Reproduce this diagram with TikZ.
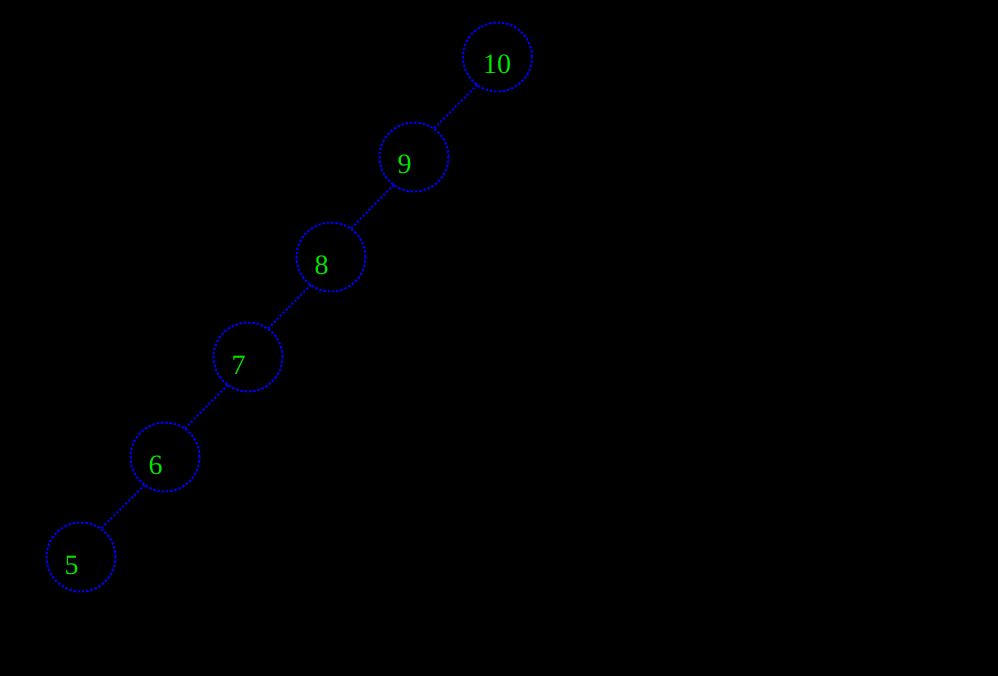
\documentclass[tikz,border=0pt]{standalone}
\usepackage{fontspec}
\setmainfont{Liberation Serif}
\begin{document}
\begin{tikzpicture}[y=1pt, x=1pt, yscale=-1, inner sep=0pt, outer sep=0pt,
	treenode/.style={circle, draw={rgb,255:red,0;green,0;blue,245}, line width=2, dash pattern=on 2.5 off 1.8, minimum size=69},
	treeedge/.style={draw={rgb,255:red,0;green,0;blue,245}, line width=2, dash pattern=on 2 off 2.2},
	treelabel/.style={anchor=base west, text={rgb,255:red,0;green,230;blue,0}, font=\fontsize{28}{28}\selectfont}]
	\fill[black] (0,0) rectangle (998,676);
	\useasboundingbox (0,0) rectangle (998,676);
	\node[treenode] (N10) at (497.5,57) {};
	\node[treenode] (N9) at (414,157) {};
	\node[treenode] (N8) at (331,257) {};
	\node[treenode] (N7) at (248,357) {};
	\node[treenode] (N6) at (165,457) {};
	\node[treenode] (N5) at (81,557) {};
	\node[treelabel] (L10) at (483,74) {10};
	\node[treelabel] (L9) at (397.5,174) {9};
	\node[treelabel] (L8) at (314.5,274) {8};
	\node[treelabel] (L7) at (231.5,374) {7};
	\node[treelabel] (L6) at (148.5,474) {6};
	\node[treelabel] (L5) at (64.5,574) {5};
	\draw[treeedge] (N10.-126) -- (N9.55);
	\draw[treeedge] (N9.-126) -- (N8.55);
	\draw[treeedge] (N8.-126) -- (N7.55);
	\draw[treeedge] (N7.-126) -- (N6.55);
	\draw[treeedge] (N6.-126) -- (N5.55);
\end{tikzpicture}
\end{document}
